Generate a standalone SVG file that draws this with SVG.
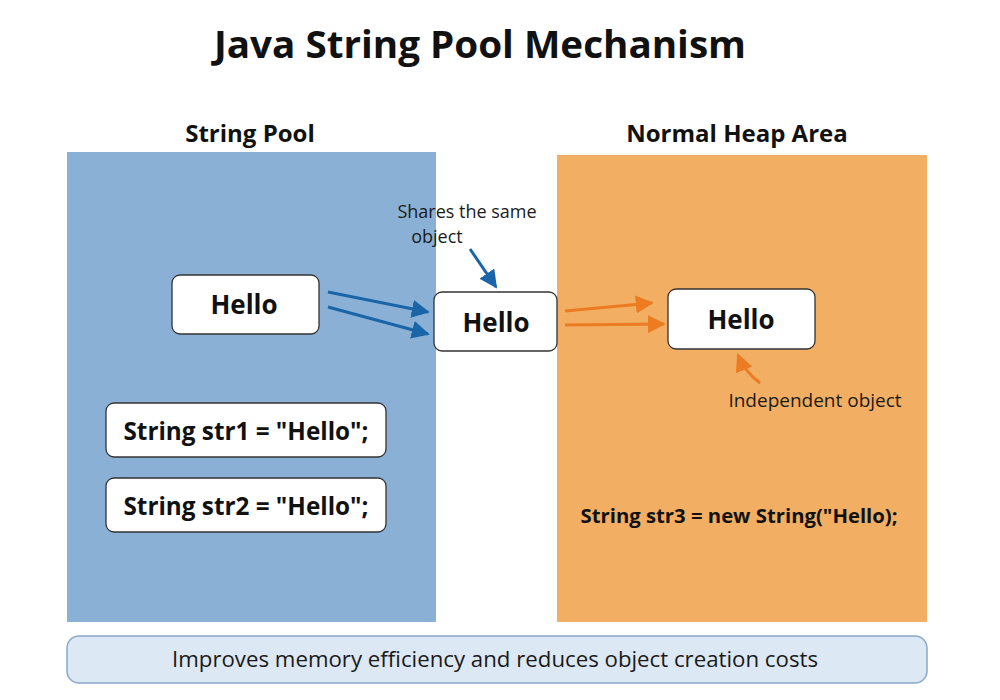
<svg xmlns="http://www.w3.org/2000/svg" width="1000" height="700" viewBox="0 0 1000 700">
<style>
text{font-family:"Open Sans","Liberation Sans",sans-serif;fill:#111}
.t{font-weight:700;text-anchor:middle}
.n{font-weight:400;text-anchor:middle;fill:#1a1a1a}
.box{fill:#fff;stroke:#333;stroke-width:1.3}
.blue{stroke:#1a64a8;stroke-width:3;fill:none}
.orange{stroke:#ec7c22;stroke-width:3;fill:none}
</style>
<defs>
<marker id="ab" viewBox="0 0 10 10" refX="9" refY="5" markerWidth="6" markerHeight="6" orient="auto" markerUnits="strokeWidth"><path d="M0,0 L10,5 L0,10 z" fill="#1a64a8"/></marker>
<marker id="ao" viewBox="0 0 10 10" refX="9" refY="5" markerWidth="6" markerHeight="6" orient="auto" markerUnits="strokeWidth"><path d="M0,0 L10,5 L0,10 z" fill="#ec7c22"/></marker>
</defs>
<rect width="1000" height="700" fill="#fff"/>
<text class="t" x="480" y="58" font-size="38" textLength="532" lengthAdjust="spacingAndGlyphs">Java String Pool Mechanism</text>

<g id="string-pool">
<rect x="67" y="152" width="369" height="470" fill="#8ab1d5"/>
<text class="t" x="250" y="142" font-size="24">String Pool</text>
</g>
<g id="normal-heap">
<rect x="557" y="155" width="370" height="467" fill="#f2ae62"/>
<text class="t" x="737" y="142" font-size="24">Normal Heap Area</text>
</g>

<g id="hello-pool">
<rect class="box" x="172" y="275" width="147" height="59" rx="8"/>
<text class="t" x="244" y="314" font-size="26">Hello</text>
</g>
<g id="hello-shared">
<rect class="box" x="434" y="292" width="123" height="59" rx="8"/>
<text class="t" x="496" y="332" font-size="26">Hello</text>
</g>
<g id="hello-heap">
<rect class="box" x="668" y="289" width="147" height="60" rx="8"/>
<text class="t" x="741" y="329" font-size="26">Hello</text>
</g>

<g id="str1">
<rect class="box" x="106" y="403" width="280" height="54" rx="8"/>
<text class="t" x="246" y="440" font-size="25" textLength="245" lengthAdjust="spacingAndGlyphs">String str1 = "Hello";</text>
</g>
<g id="str2">
<rect class="box" x="106" y="478" width="280" height="54" rx="8"/>
<text class="t" x="246" y="515" font-size="25" textLength="245" lengthAdjust="spacingAndGlyphs">String str2 = "Hello";</text>
</g>
<g id="str3">
<text class="t" x="739" y="523" font-size="20" textLength="317" lengthAdjust="spacingAndGlyphs">String str3 = new String("Hello);</text>
</g>

<g id="label-shares">
<text class="n" x="467" y="218" font-size="18">Shares the same</text>
<text class="n" x="437" y="243" font-size="18">object</text>
</g>
<g id="label-independent">
<text class="n" x="815" y="407" font-size="19">Independent object</text>
</g>

<g id="summary">
<rect x="67" y="636" width="860" height="47" rx="12" fill="#dce8f3" stroke="#8aa8c8" stroke-width="1.5"/>
<text class="n" x="495" y="667" font-size="22" textLength="646" lengthAdjust="spacingAndGlyphs">Improves memory efficiency and reduces object creation costs</text>
</g>

<g id="connectors">
<line class="blue" x1="328" y1="292" x2="428" y2="312" marker-end="url(#ab)"/>
<line class="blue" x1="328" y1="307" x2="428" y2="334" marker-end="url(#ab)"/>
<line class="blue" x1="470" y1="249" x2="496" y2="287" marker-end="url(#ab)"/>
<line class="orange" x1="565" y1="311" x2="652" y2="303" marker-end="url(#ao)"/>
<line class="orange" x1="565" y1="325" x2="664" y2="324" marker-end="url(#ao)"/>
<path class="orange" d="M760,383 Q745,372 738,355" marker-end="url(#ao)"/>
</g>
</svg>
